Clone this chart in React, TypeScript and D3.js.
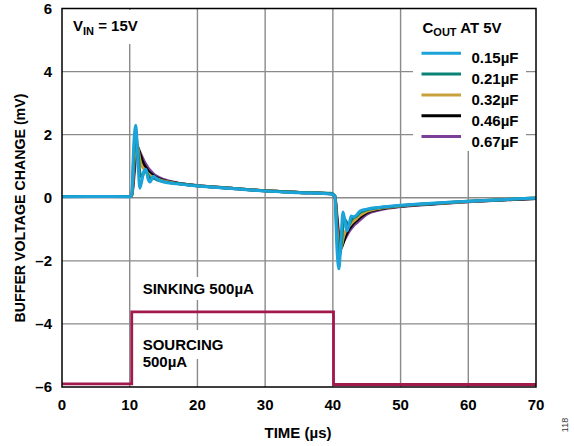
import React, { useEffect, useRef } from "react";
import * as d3 from "d3";

// time axis (µs), shared by all buffer traces
const time = [
  0, 5, 10, 10.3, 10.6, 10.9, 11.2, 11.5, 11.8, 12.1, 12.4, 12.7, 13, 13.5, 14, 15, 17, 20, 25, 30, 35, 39.7,
  40.3, 40.6, 40.9, 41.2, 41.5, 41.8, 42.1, 42.4, 42.7, 43, 43.5, 44, 45, 47, 50, 55, 60, 65, 70,
];

// buffer voltage change (mV) per COUT value
const cout015 = [
  0.03, 0.04, 0.03, 0.1, 1.7, 2.3, 1.2, 0.3, 0.55, 0.85, 0.9, 0.6, 0.5, 0.68, 0.6, 0.5, 0.44, 0.37, 0.29, 0.21, 0.16, 0.12,
  0.05, -1.6, -2.25, -1.3, -0.45, -0.75, -1.05, -0.85, -0.58, -0.6, -0.55, -0.42, -0.36, -0.3, -0.24, -0.17, -0.11, -0.06, -0.01,
];
const cout021 = [
  0.04, 0.04, 0.04, 0.08, 1.3, 1.95, 1.5, 0.8, 0.65, 0.8, 0.85, 0.72, 0.62, 0.62, 0.57, 0.51, 0.45, 0.38, 0.3, 0.22, 0.17, 0.14,
  0.06, -1.2, -1.9, -1.6, -0.9, -0.7, -0.8, -0.85, -0.72, -0.64, -0.58, -0.47, -0.38, -0.31, -0.25, -0.18, -0.11, -0.06, -0.01,
];
const cout032 = [
  0.04, 0.04, 0.04, 0.06, 1.0, 1.75, 1.6, 1.2, 1.0, 0.92, 0.84, 0.77, 0.71, 0.66, 0.6, 0.53, 0.45, 0.38, 0.3, 0.22, 0.17, 0.13,
  0.05, -0.9, -1.65, -1.6, -1.3, -1.1, -0.98, -0.9, -0.82, -0.75, -0.66, -0.56, -0.43, -0.33, -0.26, -0.18, -0.12, -0.06, -0.01,
];
const cout046 = [
  0.04, 0.04, 0.04, 0.05, 0.8, 1.55, 1.6, 1.4, 1.2, 1.06, 0.95, 0.85, 0.78, 0.7, 0.63, 0.55, 0.46, 0.38, 0.3, 0.22, 0.17, 0.13,
  0.05, -0.7, -1.45, -1.6, -1.45, -1.25, -1.1, -0.99, -0.9, -0.82, -0.72, -0.62, -0.47, -0.35, -0.27, -0.19, -0.12, -0.07, -0.02,
];
const cout067 = [
  0.04, 0.04, 0.04, 0.05, 0.6, 1.3, 1.5, 1.45, 1.3, 1.17, 1.05, 0.95, 0.87, 0.76, 0.68, 0.58, 0.47, 0.39, 0.3, 0.22, 0.17, 0.13,
  0.05, -0.55, -1.2, -1.4, -1.4, -1.3, -1.18, -1.07, -0.98, -0.9, -0.8, -0.7, -0.52, -0.38, -0.28, -0.2, -0.13, -0.07, -0.02,
];

const seriesNames = ["0.15µF", "0.21µF", "0.32µF", "0.46µF", "0.67µF"];
const seriesValues = [cout015, cout021, cout032, cout046, cout067];
const seriesColors = ["#1ba3da", "#0a8377", "#c8a13d", "#000000", "#7b3f98"];

// load current step trace (drawn on the same axes)
const loadTime = [0, 10.3, 10.3, 40.1, 40.1, 70];
const loadLevel = [-5.9, -5.9, -3.62, -3.62, -5.92, -5.92];

const xTicks = [0, 10, 20, 30, 40, 50, 60, 70];
const yTicks = [-6, -4, -2, 0, 2, 4, 6];

const FONT = "'Liberation Sans', Arial, sans-serif";

function Chart() {
  const svgRef = useRef<SVGSVGElement>(null);

  useEffect(() => {
    const svg = d3.select(svgRef.current);
    svg.selectAll("*").remove();

    const x = d3.scaleLinear().domain([0, 70]).range([62, 536]);
    const y = d3.scaleLinear().domain([-6, 6]).range([387, 8.5]);

    const grid = svg.append("g");
    grid
      .selectAll("line.vx")
      .data(xTicks.slice(1, -1))
      .join("line")
      .attr("x1", (d) => x(d))
      .attr("x2", (d) => x(d))
      .attr("y1", y(6))
      .attr("y2", y(-6))
      .attr("stroke", "#8a8a8a")
      .attr("stroke-width", 1.4);
    grid
      .selectAll("line.hy")
      .data(yTicks.slice(1, -1))
      .join("line")
      .attr("x1", x(0))
      .attr("x2", x(70))
      .attr("y1", (d) => y(d))
      .attr("y2", (d) => y(d))
      .attr("stroke", "#8a8a8a")
      .attr("stroke-width", 1.4);

    const boxes = svg.append("g");
    const lines = svg.append("g");
    const texts = svg.append("g").attr("font-family", FONT).attr("font-weight", "bold");

    // load current trace
    const lineGen = d3
      .line<number>()
      .x((d, i) => x(loadTime[i]))
      .y((d) => y(d));
    lines
      .append("path")
      .attr("d", lineGen(loadLevel))
      .attr("fill", "none")
      .attr("stroke", "#a3194b")
      .attr("stroke-width", 2.8);

    // buffer voltage traces, largest cap drawn first
    const trace = d3
      .line<number>()
      .x((d, i) => x(time[i]))
      .y((d) => y(d))
      .curve(d3.curveMonotoneX);
    for (let s = seriesValues.length - 1; s >= 0; s--) {
      lines
        .append("path")
        .attr("d", trace(seriesValues[s]))
        .attr("fill", "none")
        .attr("stroke", seriesColors[s])
        .attr("stroke-width", 3)
        .attr("stroke-linejoin", "round");
    }

    // plot border
    svg
      .append("rect")
      .attr("x", x(0))
      .attr("y", y(6))
      .attr("width", x(70) - x(0))
      .attr("height", y(-6) - y(6))
      .attr("fill", "none")
      .attr("stroke", "#000")
      .attr("stroke-width", 1.5);

    // tick labels
    texts
      .selectAll("text.xt")
      .data(xTicks)
      .join("text")
      .attr("x", (d) => x(d))
      .attr("y", 410)
      .attr("text-anchor", "middle")
      .attr("font-size", 15)
      .text((d) => d);
    texts
      .selectAll("text.yt")
      .data(yTicks)
      .join("text")
      .attr("x", 52)
      .attr("y", (d) => y(d) + 5.3)
      .attr("text-anchor", "end")
      .attr("font-size", 15)
      .text((d) => (d < 0 ? "–" + Math.abs(d) : String(d)));

    // axis titles
    texts
      .append("text")
      .attr("x", 298)
      .attr("y", 438)
      .attr("text-anchor", "middle")
      .attr("font-size", 15)
      .text("TIME (µs)");
    texts
      .append("text")
      .attr("transform", "translate(25,208) rotate(-90)")
      .attr("text-anchor", "middle")
      .attr("font-size", 14.2)
      .text("BUFFER VOLTAGE CHANGE (mV)");

    // annotations with white backing
    const addLabel = (tx: number, ty: number, parts: [string, boolean][], pad: number[]) => {
      const t = texts.append("text").attr("x", tx).attr("y", ty).attr("font-size", 15);
      parts.forEach(([str, sub]) => {
        if (sub) {
          t.append("tspan").attr("font-size", 11).attr("dy", 4).text(str);
        } else {
          t.append("tspan").attr("dy", t.selectAll("tspan").size() > 0 ? -4 : 0).text(str);
        }
      });
      const bb = (t.node() as SVGTextElement).getBBox();
      boxes
        .append("rect")
        .attr("x", bb.x - pad[0])
        .attr("y", bb.y - pad[1])
        .attr("width", bb.width + pad[0] * 2)
        .attr("height", bb.height + pad[1] * 2)
        .attr("fill", "#fff");
    };

    addLabel(73, 35, [["V", false], ["IN", true], [" = 15V", false]], [4, 7]);
    addLabel(142.7, 298, [["SINKING 500µA", false]], [3, 3]);
    addLabel(142.7, 354, [["SOURCING", false]], [3, 6]);
    addLabel(142.7, 371, [["500µA", false]], [3, 6]);

    // legend
    boxes.append("rect").attr("x", 413).attr("y", 9).attr("width", 113).attr("height", 142).attr("fill", "#fff");
    const lt = texts.append("text").attr("x", 422.5).attr("y", 33).attr("font-size", 15);
    lt.append("tspan").text("C");
    lt.append("tspan").attr("font-size", 11).attr("dy", 3).text("OUT");
    lt.append("tspan").attr("dy", -3).text(" AT 5V");

    const legendRow = (i: number) => 63.3 + i * 20.8;
    const legend = svg.append("g");
    legend
      .selectAll("line")
      .data(seriesNames)
      .join("line")
      .attr("x1", 421.5)
      .attr("x2", 461)
      .attr("y1", (d, i) => legendRow(i) - 10)
      .attr("y2", (d, i) => legendRow(i) - 10)
      .attr("stroke", (d, i) => seriesColors[i])
      .attr("stroke-width", 3);
    texts
      .selectAll("text.lg")
      .data(seriesNames)
      .join("text")
      .attr("x", 471.5)
      .attr("y", (d, i) => legendRow(i))
      .attr("font-size", 15)
      .text((d) => d);

    // figure number
    svg
      .append("text")
      .attr("transform", "translate(568,425) rotate(-90)")
      .attr("text-anchor", "middle")
      .attr("font-family", FONT)
      .attr("font-size", 9)
      .attr("fill", "#333")
      .text("118");
  }, []);

  return <svg ref={svgRef} width={574} height={446} style={{ position: "absolute", left: 0, top: 0, background: "#fff" }} />;
}

export default function App() {
  return <Chart />;
}
